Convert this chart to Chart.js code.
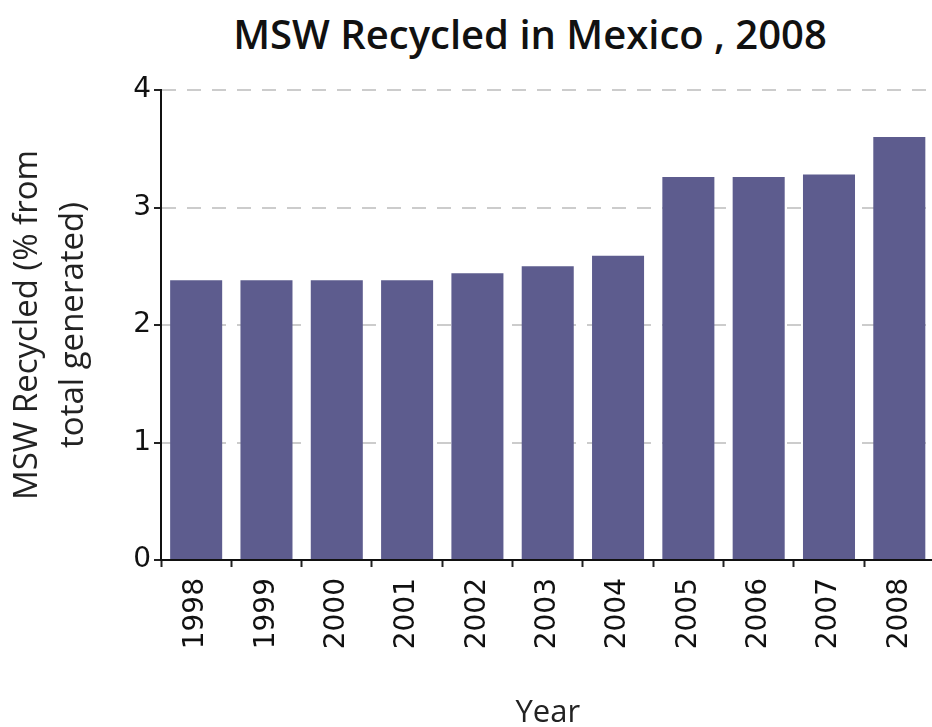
<!DOCTYPE html>
<html>
<head>
<meta charset="utf-8">
<script src="https://cdn.jsdelivr.net/npm/chart.js@4"></script>
<style>
  html, body { margin: 0; padding: 0; background: #fff; overflow: hidden; width: 932px; height: 727px; }
  #title { position: absolute; top: 6px; left: 180px; width: 700px; text-align: center;
           font-family: "Open Sans", sans-serif; font-weight: 600; font-size: 40px; color: #111; white-space: nowrap; }
  #chart { position: absolute; top: 0; left: 0; }
</style>
</head>
<body>
<div id="title">MSW Recycled in Mexico , 2008</div>
<canvas id="chart" width="944" height="727"></canvas>
<script>
const years = ['1998', '1999', '2000', '2001', '2002', '2003', '2004', '2005', '2006', '2007', '2008'];
const recycled = [2.38, 2.38, 2.38, 2.38, 2.44, 2.50, 2.59, 3.26, 3.26, 3.28, 3.60];
const yTicks = [0, 1, 2, 3, 4];

const ctx = document.getElementById('chart');
new Chart(ctx, {
    type: 'bar',
    data: {
        labels: years,
        datasets: [{
            label: 'MSW Recycled',
            data: recycled,
            backgroundColor: '#5d5c8e',
            barPercentage: 0.74,
            categoryPercentage: 1.0
        }]
    },
    options: {
        responsive: false,
        animation: false,
        layout: { padding: { top: 90, right: 2, left: 0, bottom: 0 } },
        plugins: {
            legend: { display: false },
            tooltip: { enabled: false }
        },
        scales: {
            x: {
                offset: true,
                afterFit: (axis) => { axis.height = 167; },
                grid: {
                    display: true,
                    drawOnChartArea: false,
                    drawTicks: true,
                    tickLength: 7,
                    tickColor: '#222',
                    tickWidth: 2,
                    offset: true
                },
                border: { color: '#111', width: 2 },
                ticks: {
                    maxRotation: 90,
                    minRotation: 90,
                    padding: 11,
                    color: '#111',
                    font: { family: 'DejaVu Sans', size: 28 }
                },
                title: {
                    display: true,
                    text: 'Year',
                    color: '#222',
                    padding: { top: 0, bottom: 0 },
                    font: { family: 'Open Sans', size: 31, lineHeight: 0.9 }
                }
            },
            y: {
                min: 0,
                max: 4,
                afterFit: (axis) => { axis.width = 161; },
                afterBuildTicks: (axis) => { axis.ticks = yTicks.map(v => ({ value: v })); },
                grid: {
                    color: '#cccccc',
                    lineWidth: 2,
                    tickBorderDash: [],
                    tickColor: '#222',
                    tickWidth: 2,
                    tickLength: 7
                },
                border: { color: '#111', width: 2, dash: [14, 11] },
                ticks: {
                    padding: 3,
                    color: '#111',
                    font: { family: 'DejaVu Sans', size: 28 }
                },
                title: {
                    display: true,
                    text: ['MSW Recycled (% from', 'total generated)'],
                    color: '#222',
                    padding: { top: 4, bottom: 0 },
                    font: { family: 'Open Sans', size: 33, lineHeight: 1.4 }
                }
            }
        }
    }
});
</script>
</body>
</html>
